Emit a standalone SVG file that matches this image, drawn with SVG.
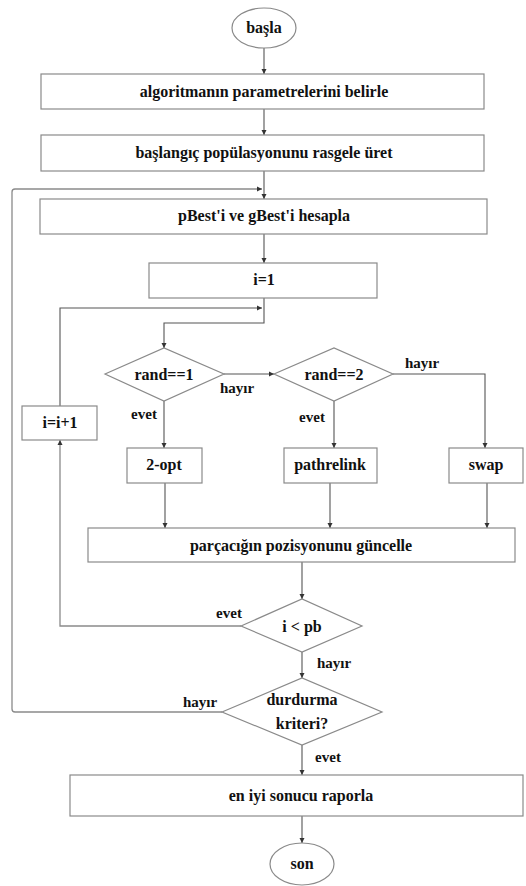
<svg xmlns="http://www.w3.org/2000/svg" width="526" height="886" viewBox="0 0 526 886">
<defs>
<marker id="ah" markerWidth="6" markerHeight="6" refX="5" refY="3" orient="auto" markerUnits="userSpaceOnUse">
<path d="M0,0.5 L5,3 L0,5.5 z" fill="#333"/>
</marker>
<style>
.n{fill:#fff;stroke:#8a8a8a;stroke-width:1.2}
.t{font-weight:bold;font-size:16px;fill:#111;text-anchor:middle}
.l{font-weight:bold;font-size:15px;fill:#111;text-anchor:middle}
.c{fill:none;stroke:#555;stroke-width:1.1}
.c2{fill:none;stroke:#8a8a8a;stroke-width:1.3}
</style>
</defs>
<rect width="526" height="886" fill="#fff"/>
<g id="connectors">
<line class="c" x1="264" y1="48" x2="264" y2="74" marker-end="url(#ah)"/>
<line class="c" x1="264" y1="109" x2="264" y2="135" marker-end="url(#ah)"/>
<line class="c" x1="264" y1="171" x2="264" y2="199" marker-end="url(#ah)"/>
<path class="c2" d="M222,712 H15 Q12,712 12,709 V192 Q12,189 15,189 H262" marker-end="url(#ah)"/>
<line class="c" x1="264" y1="234" x2="264" y2="263" marker-end="url(#ah)"/>
<path class="c" d="M264,298 V323 H164 V348" marker-end="url(#ah)"/>
<path class="c" d="M60,406 V308 H262" marker-end="url(#ah)"/>
<line class="c" x1="224" y1="374" x2="274" y2="374" marker-end="url(#ah)"/>
<path class="c" d="M393,374 H485 V448" marker-end="url(#ah)"/>
<line class="c" x1="164" y1="401" x2="164" y2="448" marker-end="url(#ah)"/>
<line class="c" x1="334" y1="401" x2="334" y2="448" marker-end="url(#ah)"/>
<line class="c" x1="165" y1="483" x2="165" y2="528" marker-end="url(#ah)"/>
<line class="c" x1="330" y1="483" x2="330" y2="528" marker-end="url(#ah)"/>
<line class="c" x1="487" y1="483" x2="487" y2="528" marker-end="url(#ah)"/>
<line class="c" x1="302" y1="562" x2="302" y2="599" marker-end="url(#ah)"/>
<path class="c2" d="M241,626 H60 V440" marker-end="url(#ah)"/>
<line class="c" x1="302" y1="652" x2="302" y2="678" marker-end="url(#ah)"/>
<line class="c" x1="302" y1="745" x2="302" y2="775" marker-end="url(#ah)"/>
<line class="c" x1="302" y1="816" x2="302" y2="843" marker-end="url(#ah)"/>
</g>
<g font-family="Liberation Serif, DejaVu Serif, serif">
<g id="labels">
<text class="l" x="237" y="393">hayır</text>
<text class="l" x="422" y="368">hayır</text>
<text class="l" x="144" y="419">evet</text>
<text class="l" x="312" y="422">evet</text>
<text class="l" x="229" y="618">evet</text>
<text class="l" x="334" y="668">hayır</text>
<text class="l" x="200" y="707">hayır</text>
<text class="l" x="328" y="762">evet</text>
</g>
<g id="start"><ellipse class="n" cx="264" cy="28" rx="32" ry="20"/><text class="t" x="264" y="33">başla</text></g>
<g id="params"><rect class="n" x="41" y="74" width="443" height="35"/><text class="t" x="264" y="97">algoritmanın parametrelerini belirle</text></g>
<g id="init"><rect class="n" x="41" y="135" width="443" height="36"/><text class="t" x="264" y="158">başlangıç popülasyonunu rasgele üret</text></g>
<g id="best"><rect class="n" x="40" y="199" width="447" height="35"/><text class="t" x="264" y="221">pBest'i ve gBest'i hesapla</text></g>
<g id="i1"><rect class="n" x="149" y="263" width="228" height="35"/><text class="t" x="264" y="285">i=1</text></g>
<g id="inc"><rect class="n" x="22" y="406" width="75" height="34"/><text class="t" x="60" y="428">i=i+1</text></g>
<g id="rand1"><polygon class="n" points="105,374 164,348 224,374 164,401"/><text class="t" x="164" y="380">rand==1</text></g>
<g id="rand2"><polygon class="n" points="274,374 334,348 393,374 334,401"/><text class="t" x="334" y="380">rand==2</text></g>
<g id="opt2"><rect class="n" x="127" y="448" width="75" height="35"/><text class="t" x="164" y="470">2-opt</text></g>
<g id="pathrelink"><rect class="n" x="284" y="448" width="93" height="35"/><text class="t" x="330" y="470">pathrelink</text></g>
<g id="swap"><rect class="n" x="449" y="448" width="74" height="35"/><text class="t" x="486" y="470">swap</text></g>
<g id="update"><rect class="n" x="88" y="528" width="427" height="34"/><text class="t" x="301" y="551">parçacığın pozisyonunu güncelle</text></g>
<g id="ipb"><polygon class="n" points="241,626 302,599 362,626 302,652"/><text class="t" x="302" y="632">i &lt; pb</text></g>
<g id="stop"><polygon class="n" points="222,712 302,678 382,712 302,745"/><text class="t" x="302" y="705">durdurma</text><text class="t" x="302" y="729">kriteri?</text></g>
<g id="report"><rect class="n" x="70" y="775" width="453" height="41"/><text class="t" x="301" y="801">en iyi sonucu raporla</text></g>
<g id="end"><ellipse class="n" cx="302" cy="864" rx="32" ry="21"/><text class="t" x="302" y="869">son</text></g>
</g>
</svg>
